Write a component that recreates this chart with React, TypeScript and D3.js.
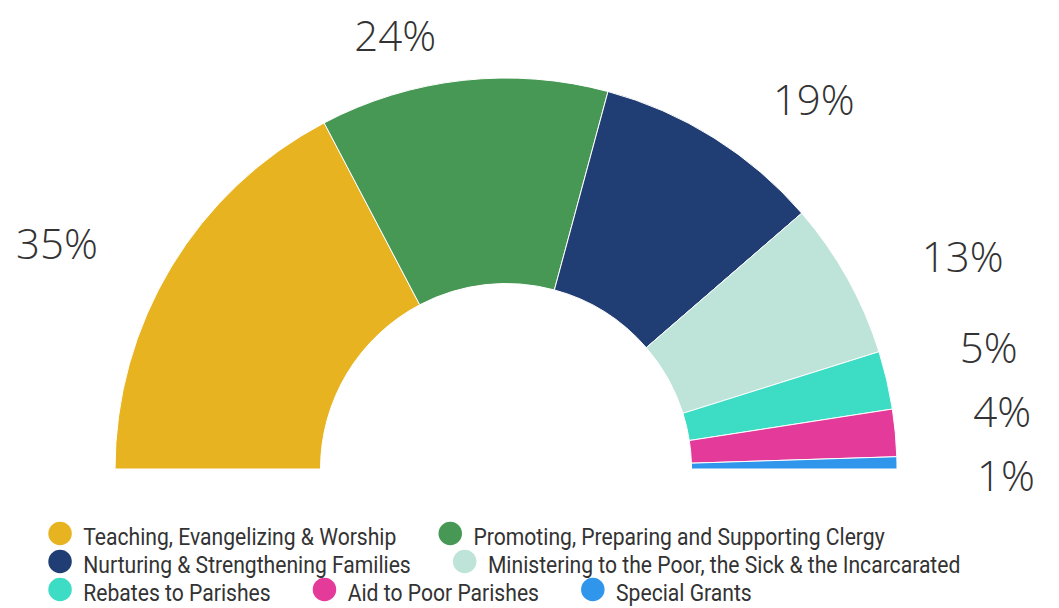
import React, { useMemo } from "react";
import * as d3 from "d3";

const categories = [
  "Teaching, Evangelizing & Worship",
  "Promoting, Preparing and Supporting Clergy",
  "Nurturing & Strengthening Families",
  "Ministering to the Poor, the Sick & the Incarcarated",
  "Rebates to Parishes",
  "Aid to Poor Parishes",
  "Special Grants",
];
const values = [34.6, 23.8, 18.9, 13.0, 4.8, 3.9, 1.0];
const colors = ["#E8B321", "#469854", "#213E74", "#BEE3D8", "#3DDCC5", "#E43A9A", "#2F96EB"];

const W = 1059;
const H = 608;
const CX = 506;
const CY = 469;
const R_OUT = 391;
const R_IN = 185.5;
const LABEL_R = 436;
const LABEL_OFFSET = 35;
const LABEL_OFFSET_TOP = 22;
const LABEL_GAP = 64;
const LABEL_MAX_Y = CY + 7;
const LABEL_FONT = 42;

const LEG_X0 = 48.3;
const LEG_Y0 = 533.5;
const LEG_ROW = 28;
const LEG_R = 11.75;
const LEG_TEXT_DX = 35;
const LEG_GAP = 42;
const LEG_MAX_X = 1030;
const LEG_FONT = 24;
const LEG_SCALE = 0.88;

type Label = { i: number; mid: number; left: boolean; y: number; x: number; anchor: string; text: string };

export default function App() {
  const arcs = useMemo(
    () => d3.pie<number>().sort(null).startAngle(-Math.PI / 2).endAngle(Math.PI / 2)(values),
    []
  );
  const arcGen = d3.arc<d3.PieArcDatum<number>>().innerRadius(R_IN).outerRadius(R_OUT);
  const total = d3.sum(values);

  const labels: Label[] = useMemo(() => {
    const ls: Label[] = arcs.map((a, i) => {
      const mid = (a.startAngle + a.endAngle) / 2;
      return {
        i,
        mid,
        left: Math.sin(mid) < 0,
        y: CY - LABEL_R * Math.cos(mid),
        x: 0,
        anchor: "start",
        text: `${Math.round((values[i] / total) * 100)}%`,
      };
    });
    [true, false].forEach((side) => {
      const g = ls.filter((l) => l.left === side).sort((a, b) => a.y - b.y);
      for (let k = 1; k < g.length; k++) {
        if (g[k].y < g[k - 1].y + LABEL_GAP) g[k].y = g[k - 1].y + LABEL_GAP;
      }
      if (g.length && g[g.length - 1].y > LABEL_MAX_Y) {
        g[g.length - 1].y = LABEL_MAX_Y;
        for (let k = g.length - 2; k >= 0; k--) {
          g[k].y = Math.min(g[k].y, g[k + 1].y - LABEL_GAP);
        }
      }
    });
    ls.forEach((l) => {
      const dy = CY - l.y;
      const dx = Math.sqrt(Math.max(0, LABEL_R * LABEL_R - dy * dy));
      const off = Math.abs(Math.sin(l.mid)) < 0.25 ? LABEL_OFFSET_TOP : LABEL_OFFSET;
      l.x = CX + (l.left ? -1 : 1) * (dx + off);
      l.anchor = l.left ? "end" : "start";
    });
    return ls;
  }, [arcs, total]);

  const legend = useMemo(() => {
    const ctx = document.createElement("canvas").getContext("2d")!;
    ctx.font = `${LEG_FONT}px Roboto`;
    let x = LEG_X0;
    let row = 0;
    return categories.map((c, i) => {
      const w = LEG_TEXT_DX + ctx.measureText(c).width * LEG_SCALE;
      if (x + w > LEG_MAX_X && x > LEG_X0) {
        row++;
        x = LEG_X0;
      }
      const item = { i, c, x, y: LEG_Y0 + row * LEG_ROW };
      x += w + LEG_GAP;
      return item;
    });
  }, []);

  return (
    <svg
      width={W}
      height={H}
      style={{ position: "absolute", left: 0, top: 0, background: "#fff" }}
    >
      <g>
        {arcs.map((a, i) => (
          <path
            key={i}
            d={arcGen(a) || ""}
            transform={`translate(${CX},${CY})`}
            fill={colors[i]}
            stroke="#ffffff"
            strokeWidth={1}
          />
        ))}
      </g>
      <g fontFamily="'Open Sans', 'Noto Sans', sans-serif" fontWeight={300} fontSize={LABEL_FONT} fill="#333">
        {labels.map((l) => (
          <text key={l.i} x={l.x} y={l.y} dy="0.36em" textAnchor={l.anchor}>
            {l.text}
          </text>
        ))}
      </g>
      <g fontFamily="Roboto, sans-serif" fontSize={LEG_FONT} fill="#333">
        {legend.map((it) => (
          <g key={it.i}>
            <circle cx={it.x + LEG_R} cy={it.y} r={LEG_R} fill={colors[it.i]} />
            <text transform={`translate(${it.x + LEG_TEXT_DX},${it.y + 11.5}) scale(${LEG_SCALE},1)`}>{it.c}</text>
          </g>
        ))}
      </g>
    </svg>
  );
}
